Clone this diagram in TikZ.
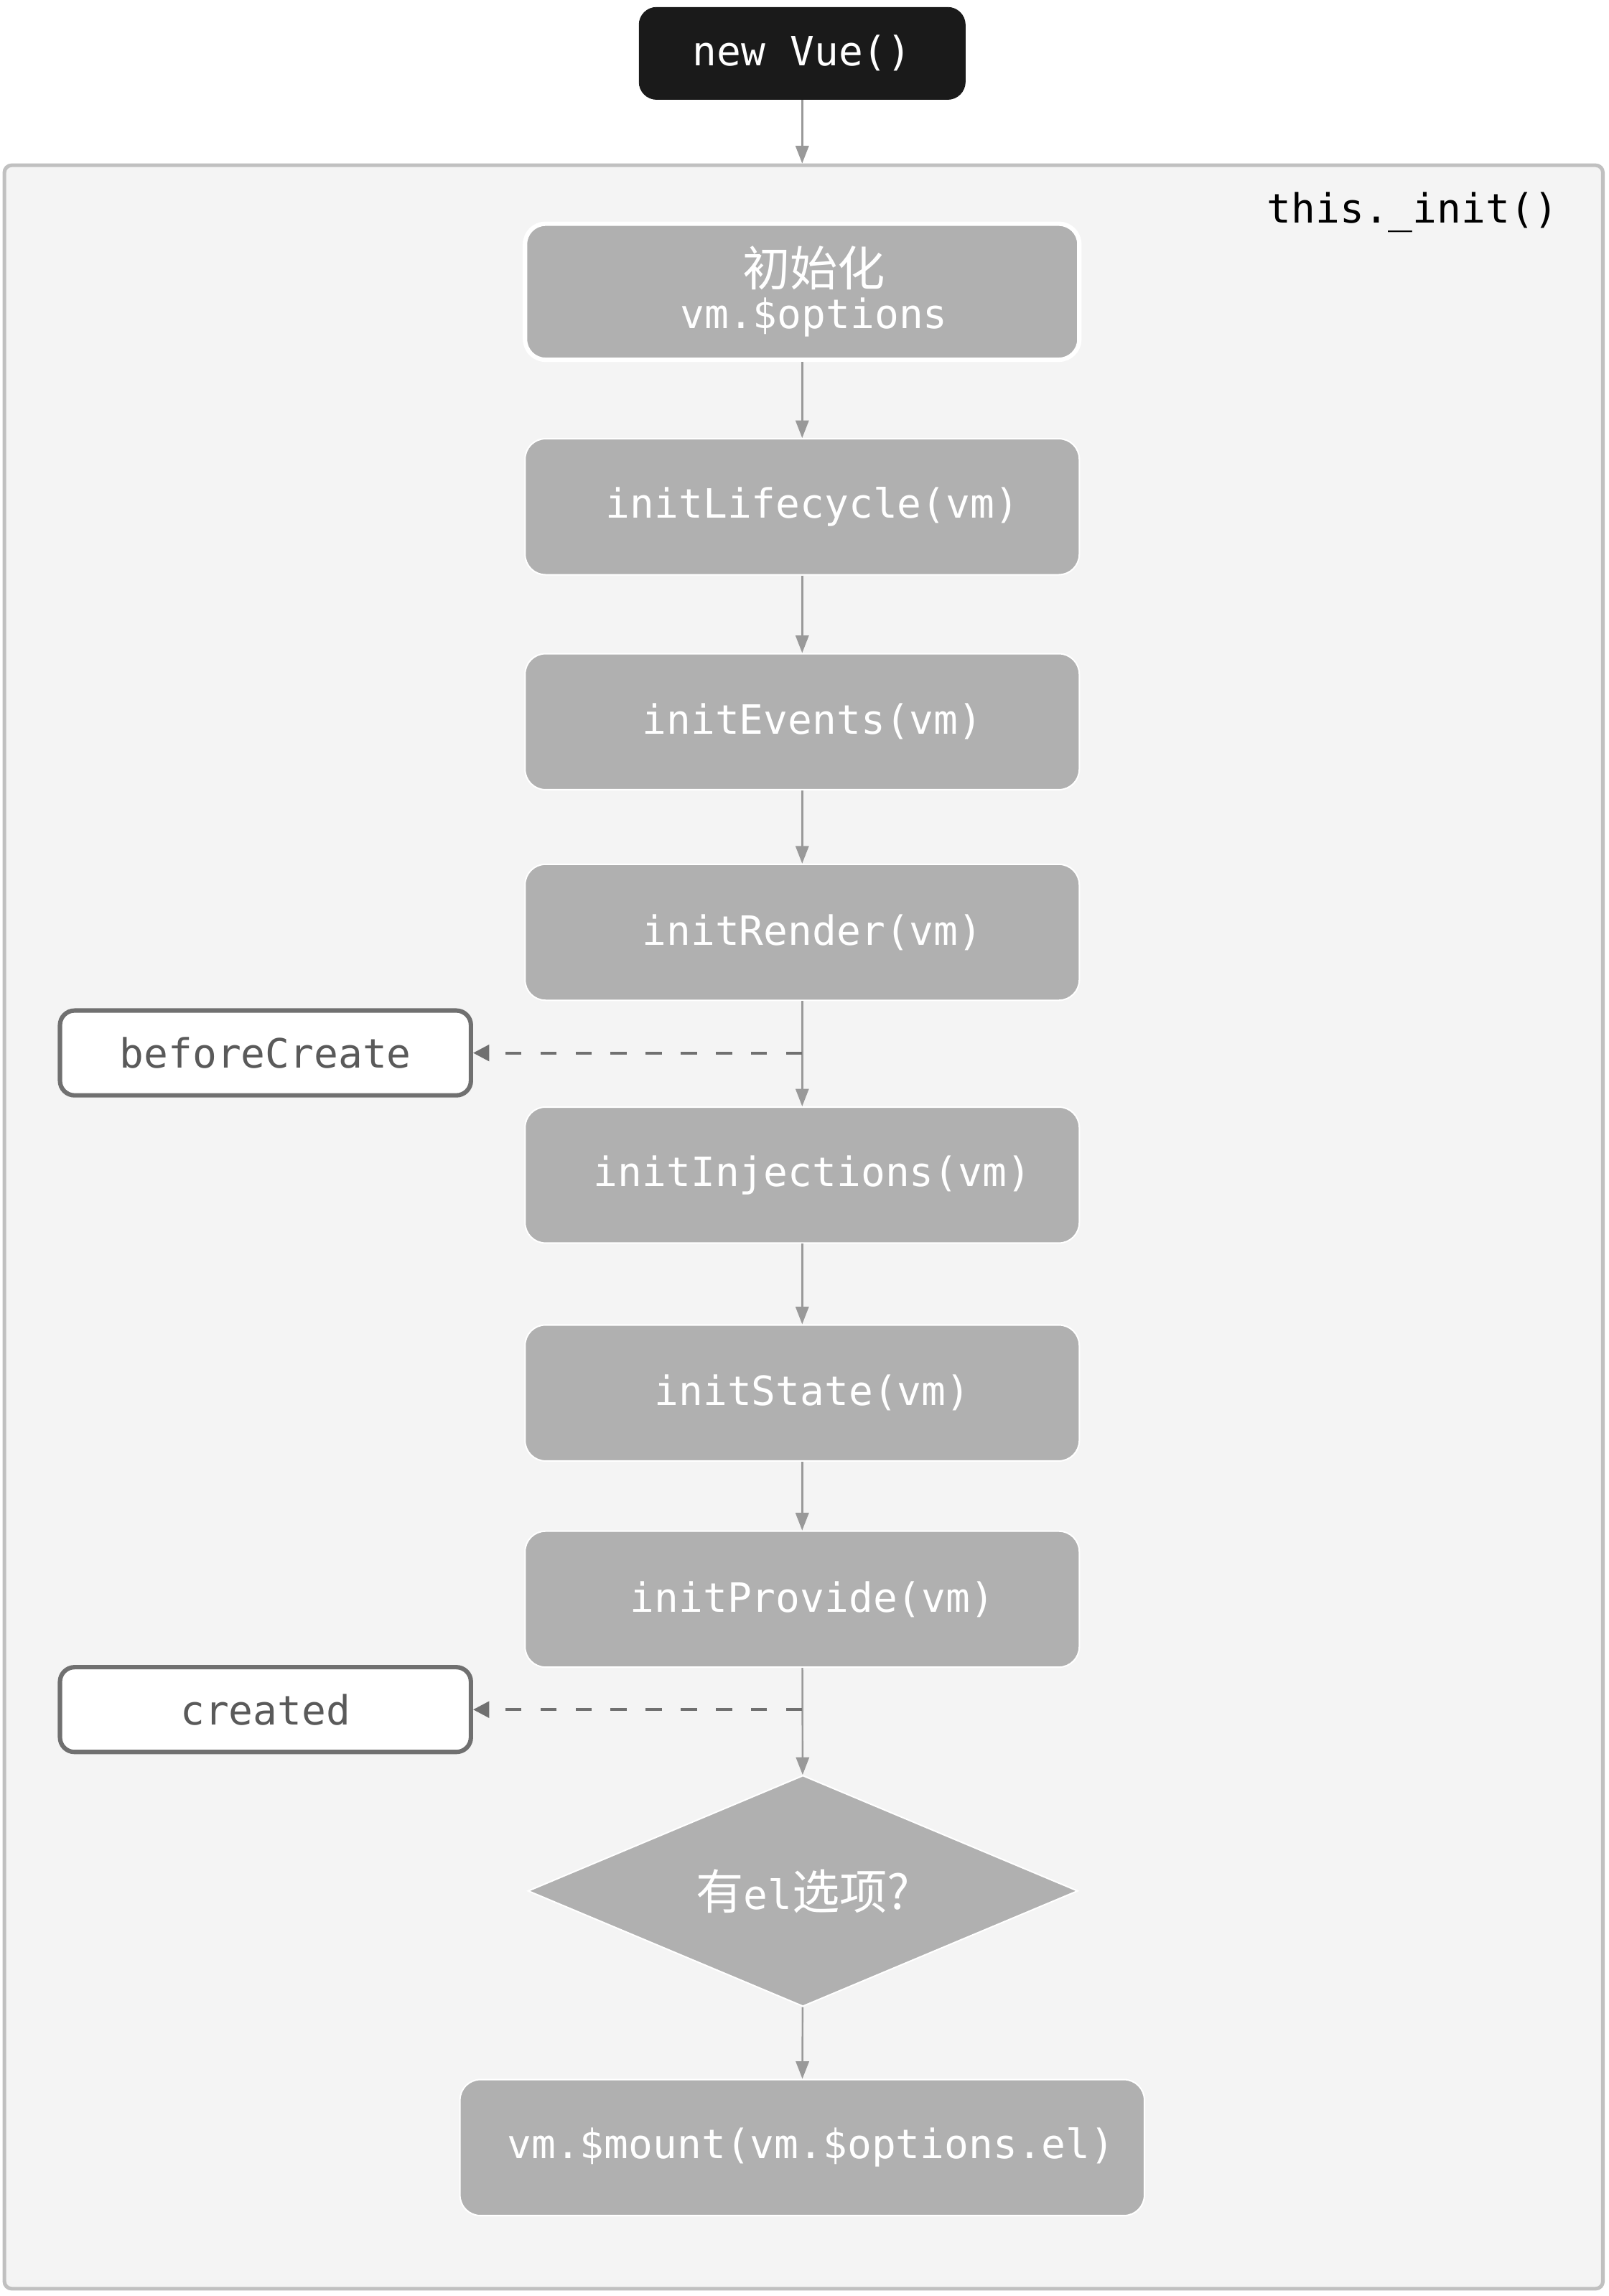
\documentclass[tikz,border=0pt]{standalone}
\usepackage{fontspec}
\setmonofont{DejaVu Sans Mono}
\newfontfamily\cjk[Scale=1.18]{Noto Sans CJK SC}
\usepackage{xcolor}
\usetikzlibrary{shapes.geometric,arrows.meta}
\definecolor{boxgray}{HTML}{B0B0B0}
\definecolor{bggray}{HTML}{F4F4F4}
\definecolor{bordergray}{HTML}{C0C0C0}
\definecolor{arrowgray}{HTML}{999999}
\definecolor{hookgray}{HTML}{707070}
\definecolor{hooktext}{HTML}{5A5A5A}
\definecolor{startblack}{HTML}{1A1A1A}

\begin{document}
\begin{tikzpicture}[x=1pt,y=-1pt,
  every node/.style={font=\ttfamily\fontsize{27.6}{29}\selectfont},
  stepbox/.style={draw=white,line width=1pt,fill=boxgray,text=white,rounded corners=14pt,
    minimum width=379pt,minimum height=93pt,inner sep=0pt},
  hookbox/.style={draw=hookgray,line width=3pt,fill=white,text=hooktext,rounded corners=10pt,
    minimum width=281pt,minimum height=58pt,inner sep=0pt},
  flow/.style={draw=arrowgray,line width=1.2pt,-{Triangle[length=12pt,width=9pt]}},
  hook/.style={draw=hookgray,line width=2pt,dash pattern=on 11pt off 13pt,
    -{Triangle[length=11pt,width=11pt]}}]
\useasboundingbox (0,0) rectangle (1100,1570);

\node[draw=startblack,fill=startblack,text=white,rounded corners=12pt,
  minimum width=223pt,minimum height=63pt,inner sep=0pt] (newvue) at (548.5,36.5) {new Vue()};

\node[draw=bordergray,line width=2.5pt,fill=bggray,rounded corners=5pt,
  minimum width=1093pt,minimum height=1452pt] (init) at (549.5,839) {};
\node (initlabel) at (966,145) {this.\_init()};

\node[stepbox,line width=3pt,align=center] (options) at (548.5,199.5)
  {\hspace{16pt}{\cjk 初始化}\\\hspace{16pt}vm.\$options};
\node[stepbox] (lifecycle) at (548.5,346.5) {\hspace{14pt}initLifecycle(vm)};
\node[stepbox] (events) at (548.5,493.5) {\hspace{14pt}initEvents(vm)};
\node[stepbox] (render) at (548.5,637.5) {\hspace{14pt}initRender(vm)};
\node[stepbox] (injections) at (548.5,803.5) {\hspace{14pt}initInjections(vm)};
\node[stepbox] (state) at (548.5,952.5) {\hspace{14pt}initState(vm)};
\node[stepbox] (provide) at (548.5,1093.5) {\hspace{14pt}initProvide(vm)};
\node[diamond,draw=white,line width=1pt,fill=boxgray,text=white,inner sep=0pt,
  minimum width=376pt,minimum height=158pt,aspect=2.38] (hasel) at (549,1293)
  {{\cjk 有}el{\cjk 选项?}};
\node[stepbox,minimum width=468pt] (mount) at (548.5,1468.5)
  {\hspace{12pt}vm.\$mount(vm.\$options.el)};

\node[hookbox] (beforecreate) at (181.5,720) {beforeCreate};
\node[hookbox] (created) at (181.5,1169) {created};

% main flow
\draw[flow] (newvue) -- (newvue |- init.north);
\draw[flow] (options) -- (lifecycle);
\draw[flow] (lifecycle) -- (events);
\draw[flow] (events) -- (render);
\draw[flow] (render) -- (injections);
\draw[flow] (injections) -- (state);
\draw[flow] (state) -- (provide);
\draw[flow] (provide) -- (hasel);
\draw[flow] (hasel) -- (mount);

% lifecycle hooks
\draw[hook] (render.south |- beforecreate) -- (beforecreate.east);
\draw[hook] (provide.south |- created) -- (created.east);
\end{tikzpicture}
\end{document}
